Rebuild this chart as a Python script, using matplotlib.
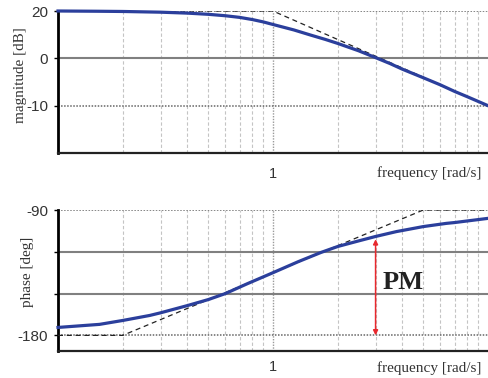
import matplotlib.pyplot as plt
import numpy as np

# datos
w_mag = [0.1, 0.15, 0.2, 0.3, 0.4, 0.5, 0.6, 0.7, 0.8, 0.9, 1.0, 1.25, 1.5, 1.75, 2.0,
         2.5, 3.0, 3.5, 4.0, 5.0, 6.0, 7.0, 8.0, 10.0]
mag_db = [20.0, 19.9, 19.8, 19.5, 19.1, 18.6, 18.0, 17.3, 16.4, 15.4, 14.3, 12.0, 9.8, 8.0, 6.3,
          3.2, 0.3, -1.1, -2.3, -4.1, -5.6, -7.0, -8.1, -10.0]
w_mag_asym = [0.1, 1.0, 3.162, 10.0]
mag_asym = [20, 20, 0, -10]

w_ph = [0.1, 0.156, 0.2, 0.267, 0.3, 0.4, 0.5, 0.6, 0.76, 1.0, 1.31, 1.67, 2.0, 2.5, 3.0,
        3.75, 5.0, 6.4, 7.0, 10.0]
phase = [-174.3, -172.1, -169.3, -165.7, -163.8, -158.6, -154.3, -150.0, -142.9, -135.0,
         -127.1, -120.5, -116.2, -112.2, -109.0, -105.5, -101.9, -99.6, -99.0, -96.0]
w_ph_asym = [0.1, 0.2, 5.0, 10.0]
ph_asym = [-180, -180, -90, -90]

mag_ticks = [20, 0, -10]
ph_ticks = [-90, -120, -150, -180]
w_pm = 3.0
pm_top = -111

blue = '#2b3f9c'
sans = ['Liberation Sans', 'DejaVu Sans']
serif = ['Liberation Serif', 'DejaVu Serif']


# escala en dB: arriba de 0 va de 20 en 20, abajo de 10 en 10
def fwd(d):
    d = np.asarray(d, dtype=float)
    return np.where(d >= 0, d / 20.0, d / 10.0)


def inv(u):
    u = np.asarray(u, dtype=float)
    return np.where(u >= 0, u * 20.0, u * 10.0)


fig = plt.figure(figsize=(4.88, 3.78), dpi=100)
ax1 = fig.add_axes([58 / 488, 1 - 153 / 378, 430 / 488, 142 / 378])
ax2 = fig.add_axes([58 / 488, 1 - 350.7 / 378, 430 / 488, 140.7 / 378])


def style(ax, hlines):
    ax.set_xscale('log')
    ax.set_xlim(0.1, 10)
    for s in ['top', 'right']:
        ax.spines[s].set_visible(False)
    ax.spines['left'].set_linewidth(2)
    ax.spines['bottom'].set_linewidth(1.6)
    ax.spines['bottom'].set_color('#222222')
    # rejilla vertical
    for d in [0.1, 1.0]:
        for k in range(2, 10):
            ax.axvline(d * k, color='#c4c4c4', lw=0.8, ls=(0, (3, 2)), zorder=0)
    ax.axvline(1, color='#9a9a9a', lw=1.0, ls=(0, (1, 1)), zorder=0)
    for y, st in hlines:
        if st == 'solid':
            ax.axhline(y, color='#808080', lw=1.5, zorder=1)
        else:
            ax.axhline(y, color='#666666', lw=1.1, ls=(0, (1, 1)), zorder=1)
    ax.set_xticks([1])
    ax.set_xticklabels(['1'], fontfamily=sans, fontsize=10.5, color='#333333')
    ax.xaxis.set_minor_locator(plt.NullLocator())
    ax.tick_params(axis='x', length=0)
    ax.tick_params(axis='y', length=3, width=1, pad=4, labelsize=11, labelcolor='#333333')


# magnitud
ax1.set_yscale('function', functions=(fwd, inv))
ax1.set_ylim(-20, 20)
style(ax1, [(20, 'dot'), (0, 'solid'), (-10, 'dot')])
ax1.set_yticks(mag_ticks)
ax1.set_yticklabels([str(t) for t in mag_ticks], fontfamily=sans)
ax1.yaxis.set_minor_locator(plt.NullLocator())
ax1.plot(w_mag_asym, mag_asym, color='#222222', lw=0.9, ls=(0, (4, 3)), zorder=3)
ax1.plot(w_mag, mag_db, color=blue, lw=2.3, zorder=4, clip_on=False)
ax1.tick_params(axis='x', pad=10)
ax1.text(0.984, -0.14, 'frequency [rad/s]', transform=ax1.transAxes, ha='right', va='center',
         fontfamily=serif, fontsize=11, color='#333333')
fig.text(21 / 488, 1 - 75 / 378, 'magnitude [dB]', rotation=90, ha='center', va='center',
         fontfamily=serif, fontsize=11, color='#333333')

# fase
ax2.set_ylim(-191, -90)
style(ax2, [(-90, 'dot'), (-120, 'solid'), (-150, 'solid'), (-180, 'dot')])
ax2.set_yticks(ph_ticks)
ax2.set_yticklabels(['-90', '', '', '-180'], fontfamily=sans)
ax2.plot(w_ph_asym, ph_asym, color='#222222', lw=0.9, ls=(0, (4, 3)), zorder=3)
ax2.plot(w_ph, phase, color=blue, lw=2.3, zorder=4, clip_on=False)
ax2.tick_params(axis='x', pad=7)
ax2.text(0.984, -0.125, 'frequency [rad/s]', transform=ax2.transAxes, ha='right', va='center',
         fontfamily=serif, fontsize=11, color='#333333')
fig.text(28 / 488, 1 - 272 / 378, 'phase [deg]', rotation=90, ha='center', va='center',
         fontfamily=serif, fontsize=11, color='#333333')

# margen de fase
ax2.annotate('', xy=(w_pm, pm_top), xytext=(w_pm, -180),
             arrowprops=dict(arrowstyle='<|-|>', color='#e8282d', lw=1.1,
                             mutation_scale=7, shrinkA=0, shrinkB=0), zorder=5)
ax2.text(4.05, -142, 'PM', fontfamily=serif, fontsize=19, fontweight='bold',
         color='#222222', ha='center', va='center')

fig.savefig('out.png', dpi=100)
